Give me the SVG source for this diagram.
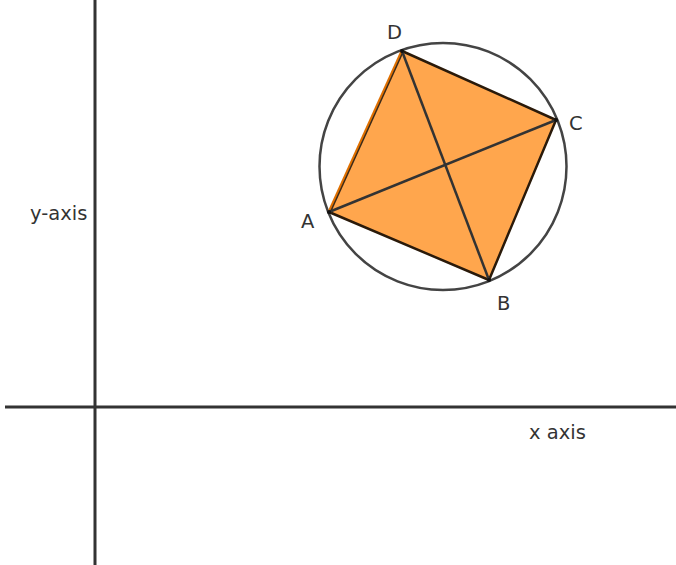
<svg xmlns="http://www.w3.org/2000/svg" width="676" height="565" viewBox="0 0 676 565">
<style>
.axis{stroke:#333;stroke-width:3;fill:none}
.edge{stroke:#2a1a0a;stroke-width:2.5;fill:none;stroke-linecap:round}
.diag{stroke:#333;stroke-width:2.5;fill:none}
.lbl{font-family:"DejaVu Sans",sans-serif;font-size:19.5px;fill:#333}
</style>
<rect width="676" height="565" fill="#fff"/>
<g id="axes">
<line class="axis" x1="95" y1="0" x2="95" y2="565"/>
<line class="axis" x1="5" y1="407" x2="676" y2="407"/>
<text class="lbl" x="30" y="220">y-axis</text>
<text class="lbl" x="529" y="439">x axis</text>
</g>
<g id="circle">
<circle cx="443" cy="166.5" r="123.5" fill="none" stroke="#444" stroke-width="2.5"/>
</g>
<g id="square">
<polygon points="329,212 489,280 556,120 402,51" fill="#ffa64d" stroke="none"/>
</g>
<g id="connectors">
<line class="edge" x1="329" y1="212" x2="489" y2="280"/>
<line class="edge" x1="489" y1="280" x2="556" y2="120"/>
<line class="edge" x1="556" y1="120" x2="402" y2="51"/>
<line x1="402" y1="51" x2="329" y2="212" stroke="#e07000" stroke-width="3"/>
<line x1="403" y1="52" x2="330" y2="213" stroke="#3a2a1a" stroke-width="1.5"/>
<line class="diag" x1="329" y1="212" x2="556" y2="120"/>
<line class="diag" x1="402" y1="51" x2="489" y2="280"/>
</g>
<g id="points">
<circle cx="329" cy="212" r="2" fill="#111"/>
<circle cx="489" cy="280" r="2" fill="#111"/>
<circle cx="556" cy="120" r="2" fill="#111"/>
<circle cx="402" cy="51" r="2" fill="#111"/>
<text class="lbl" x="301" y="228">A</text>
<text class="lbl" x="497" y="310">B</text>
<text class="lbl" x="569" y="130">C</text>
<text class="lbl" x="387" y="39">D</text>
</g>
</svg>
